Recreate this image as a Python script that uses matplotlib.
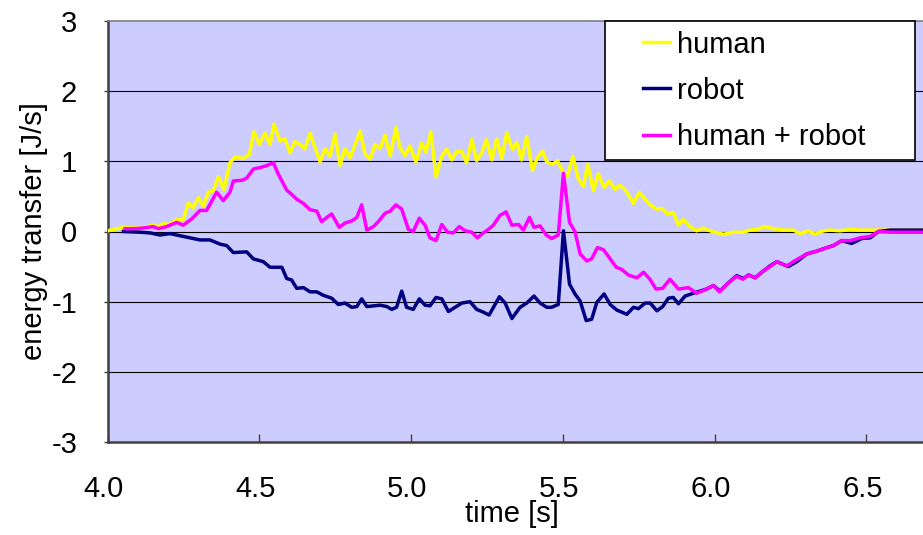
import matplotlib
matplotlib.use("Agg")
import matplotlib.pyplot as plt
from matplotlib.legend_handler import HandlerLine2D
from matplotlib.transforms import ScaledTranslation

plt.rcParams['font.family'] = ['Liberation Sans', 'DejaVu Sans']
plt.rcParams['axes.unicode_minus'] = False

human_t = [4.000, 4.052, 4.085, 4.118, 4.150, 4.167, 4.183, 4.205, 4.227, 4.249,
           4.266, 4.282, 4.299, 4.315, 4.332, 4.348, 4.365, 4.383, 4.403, 4.420,
           4.447, 4.467, 4.482, 4.500, 4.518, 4.535, 4.548, 4.568, 4.584, 4.601,
           4.617, 4.634, 4.650, 4.667, 4.683, 4.700, 4.716, 4.733, 4.749, 4.766,
           4.782, 4.799, 4.832, 4.848, 4.865, 4.881, 4.898, 4.914, 4.931, 4.950,
           4.963, 4.980, 4.996, 5.016, 5.035, 5.049, 5.065, 5.082, 5.101, 5.117,
           5.134, 5.150, 5.167, 5.183, 5.200, 5.216, 5.233, 5.248, 5.266, 5.282,
           5.299, 5.315, 5.334, 5.348, 5.364, 5.381, 5.400, 5.416, 5.433, 5.447,
           5.467, 5.482, 5.500, 5.515, 5.533, 5.551, 5.568, 5.582, 5.601, 5.617,
           5.636, 5.653, 5.672, 5.689, 5.708, 5.733, 5.752, 5.771, 5.787, 5.809,
           5.826, 5.845, 5.864, 5.881, 5.897, 5.919, 5.941, 5.963, 5.985, 6.029,
           6.062, 6.095, 6.117, 6.139, 6.166, 6.194, 6.227, 6.260, 6.282, 6.309,
           6.331, 6.359, 6.381, 6.414, 6.447, 6.480, 6.513, 6.546, 6.622, 6.687]
human_v = [0.01, 0.06, 0.05, 0.06, 0.09, 0.07, 0.11, 0.10, 0.17, 0.17,
           0.41, 0.34, 0.48, 0.36, 0.56, 0.58, 0.78, 0.60, 0.98, 1.06,
           1.04, 1.10, 1.42, 1.24, 1.40, 1.24, 1.53, 1.29, 1.32, 1.12,
           1.28, 1.24, 1.18, 1.40, 1.20, 0.99, 1.18, 1.07, 1.39, 0.94,
           1.18, 1.05, 1.43, 1.10, 1.03, 1.24, 1.18, 1.37, 1.08, 1.48,
           1.20, 1.08, 1.22, 0.99, 1.26, 1.13, 1.42, 0.78, 1.07, 1.18,
           1.02, 1.14, 1.14, 0.98, 1.31, 1.01, 1.12, 1.31, 1.02, 1.32,
           1.04, 1.41, 1.17, 1.27, 1.02, 1.35, 0.87, 1.05, 1.15, 0.99,
           0.96, 1.01, 0.85, 0.79, 1.07, 0.75, 0.64, 0.96, 0.58, 0.82,
           0.63, 0.72, 0.60, 0.66, 0.58, 0.40, 0.56, 0.46, 0.38, 0.32,
           0.33, 0.25, 0.27, 0.09, 0.17, 0.07, 0.01, 0.05, 0.01, -0.04,
           -0.01, -0.01, 0.02, 0.03, 0.07, 0.04, 0.02, 0.02, -0.03, 0.01,
           -0.04, 0.01, 0.02, 0.01, 0.03, 0.02, 0.02, 0.02, 0.02, 0.02]

robot_t = [4.052, 4.107, 4.140, 4.172, 4.205, 4.238, 4.271, 4.304, 4.337, 4.370,
           4.392, 4.414, 4.458, 4.480, 4.513, 4.535, 4.574, 4.590, 4.606, 4.623,
           4.645, 4.667, 4.689, 4.711, 4.738, 4.760, 4.782, 4.804, 4.821, 4.837,
           4.854, 4.876, 4.898, 4.920, 4.936, 4.952, 4.969, 4.985, 5.007, 5.027,
           5.046, 5.062, 5.082, 5.101, 5.123, 5.145, 5.167, 5.194, 5.216, 5.238,
           5.257, 5.291, 5.310, 5.332, 5.359, 5.381, 5.405, 5.425, 5.447, 5.463,
           5.485, 5.502, 5.522, 5.540, 5.557, 5.577, 5.595, 5.612, 5.636, 5.656,
           5.678, 5.711, 5.733, 5.749, 5.771, 5.788, 5.810, 5.829, 5.848, 5.864,
           5.881, 5.903, 5.930, 5.974, 5.996, 6.018, 6.046, 6.073, 6.095, 6.112,
           6.134, 6.156, 6.183, 6.205, 6.243, 6.271, 6.304, 6.337, 6.370, 6.392,
           6.419, 6.452, 6.485, 6.513, 6.540, 6.579, 6.687]
robot_v = [0.00, -0.01, -0.02, -0.05, -0.03, -0.06, -0.09, -0.12, -0.12, -0.18,
           -0.20, -0.30, -0.29, -0.39, -0.43, -0.51, -0.51, -0.67, -0.69, -0.81,
           -0.80, -0.86, -0.86, -0.91, -0.95, -1.04, -1.02, -1.08, -1.07, -0.96,
           -1.07, -1.06, -1.05, -1.07, -1.11, -1.08, -0.85, -1.08, -1.11, -0.96,
           -1.05, -1.06, -0.94, -0.96, -1.14, -1.08, -1.02, -1.00, -1.11, -1.15,
           -1.19, -0.93, -1.02, -1.24, -1.08, -1.02, -0.92, -1.02, -1.08, -1.08,
           -1.04, 0.01, -0.75, -0.89, -0.99, -1.27, -1.25, -1.01, -0.89, -1.04,
           -1.12, -1.18, -1.08, -1.10, -1.02, -1.02, -1.13, -1.07, -0.95, -0.94,
           -1.03, -0.92, -0.88, -0.82, -0.77, -0.85, -0.73, -0.63, -0.67, -0.62,
           -0.66, -0.58, -0.49, -0.43, -0.50, -0.43, -0.32, -0.28, -0.23, -0.20,
           -0.13, -0.17, -0.10, -0.09, 0.00, 0.02, 0.02]

sum_t = [4.057, 4.084, 4.117, 4.150, 4.167, 4.194, 4.227, 4.249, 4.277, 4.304,
         4.326, 4.359, 4.381, 4.403, 4.414, 4.442, 4.458, 4.480, 4.502, 4.524,
         4.546, 4.562, 4.590, 4.606, 4.623, 4.645, 4.667, 4.689, 4.705, 4.722,
         4.738, 4.763, 4.782, 4.804, 4.821, 4.837, 4.854, 4.876, 4.892, 4.914,
         4.931, 4.950, 4.969, 4.991, 5.007, 5.027, 5.046, 5.062, 5.082, 5.101,
         5.120, 5.139, 5.159, 5.178, 5.200, 5.218, 5.238, 5.255, 5.271, 5.293,
         5.313, 5.332, 5.354, 5.370, 5.390, 5.405, 5.425, 5.445, 5.463, 5.485,
         5.502, 5.522, 5.540, 5.557, 5.579, 5.595, 5.614, 5.634, 5.656, 5.676,
         5.694, 5.716, 5.744, 5.766, 5.787, 5.807, 5.829, 5.853, 5.881, 5.914,
         5.941, 5.969, 5.996, 6.016, 6.046, 6.073, 6.093, 6.112, 6.134, 6.161,
         6.183, 6.205, 6.238, 6.271, 6.304, 6.337, 6.370, 6.392, 6.419, 6.447,
         6.480, 6.513, 6.540, 6.579, 6.622, 6.687]
sum_v = [0.04, 0.04, 0.05, 0.07, 0.04, 0.07, 0.13, 0.09, 0.18, 0.30,
         0.30, 0.56, 0.44, 0.56, 0.72, 0.73, 0.76, 0.89, 0.91, 0.94,
         0.98, 0.82, 0.59, 0.53, 0.46, 0.40, 0.31, 0.29, 0.14, 0.20,
         0.25, 0.06, 0.12, 0.15, 0.20, 0.38, 0.02, 0.07, 0.14, 0.26,
         0.29, 0.38, 0.32, 0.03, 0.00, 0.19, 0.09, -0.09, -0.13, 0.10,
         -0.01, -0.02, 0.07, 0.01, -0.01, -0.09, -0.02, 0.03, 0.09, 0.23,
         0.28, 0.09, 0.10, 0.02, 0.20, 0.06, 0.08, -0.05, -0.10, -0.05,
         0.83, 0.13, 0.00, -0.32, -0.42, -0.39, -0.23, -0.26, -0.39, -0.51,
         -0.54, -0.62, -0.66, -0.58, -0.68, -0.82, -0.81, -0.68, -0.82, -0.80,
         -0.88, -0.83, -0.77, -0.86, -0.73, -0.64, -0.68, -0.62, -0.66, -0.56,
         -0.50, -0.43, -0.49, -0.40, -0.32, -0.28, -0.23, -0.20, -0.13, -0.13,
         -0.09, -0.07, 0.00, -0.01, -0.01, -0.01]

series_labels = ["human", "robot", "human + robot"]
series_colors = ["#FFFF00", "#000080", "#FF00FF"]
x_ticks = [4.0, 4.5, 5.0, 5.5, 6.0, 6.5]
x_tick_labels = ["4.0", "4.5", "5.0", "5.5", "6.0", "6.5"]
y_ticks = [-3, -2, -1, 0, 1, 2, 3]

W, H = 923, 535
fig = plt.figure(figsize=(W / 100, H / 100), dpi=100)
ax = fig.add_axes([107.7 / W, (H - 442) / H, 1 - 107.7 / W, (442 - 21) / H])
ax.set_facecolor("#CCCCFF")

for yv in y_ticks[1:-1]:
    ax.axhline(yv, color="black", lw=0.8, zorder=1)

lw = 2.5
ax.plot(human_t, human_v, color=series_colors[0], lw=lw, label=series_labels[0], zorder=3)
ax.plot(robot_t, robot_v, color=series_colors[1], lw=lw, label=series_labels[1], zorder=4)
ax.plot(sum_t, sum_v, color=series_colors[2], lw=lw, label=series_labels[2], zorder=5)

ax.set_xlim(4.0, 6.687)
ax.set_ylim(-3, 3)
ax.set_xticks(x_ticks)
ax.set_xticklabels(x_tick_labels)
ax.set_yticks(y_ticks)

fs = 21
ax.tick_params(axis="x", direction="in", length=6, width=1.0, color="#404040",
               labelsize=fs, pad=24)
ax.tick_params(axis="y", direction="out", length=3, width=1.0, color="#404040",
               labelsize=fs, pad=19)
off = ScaledTranslation(-4 / 100, 0, fig.dpi_scale_trans)
for lab in ax.get_xticklabels():
    lab.set_transform(lab.get_transform() + off)

for side in ["left", "bottom"]:
    ax.spines[side].set_color("#404040")
    ax.spines[side].set_linewidth(1.8)
ax.spines["top"].set_color("#808080")
ax.spines["top"].set_linewidth(1.2)
ax.spines["right"].set_visible(False)

ax.set_xlabel("time [s]", fontsize=fs)
ax.xaxis.set_label_coords((512 - 107.7) / 815.3, (442 - 500) / 421)
ax.set_ylabel("energy transfer [J/s]", fontsize=fs, labelpad=2)

fpx = fs * 100 / 72
hm = {l: HandlerLine2D(xpad=28.0 / fpx) for l in ax.get_lines()}
leg = ax.legend(loc="upper left",
                bbox_to_anchor=(605 / W, (H - 159) / H, 310 / W, 138 / H),
                bbox_transform=fig.transFigure, mode="expand",
                borderaxespad=0, borderpad=0.33, fontsize=fs,
                handlelength=(28.0 + 27) / fpx, handletextpad=7 / fpx,
                labelspacing=0.62, fancybox=False, framealpha=1,
                edgecolor="black", handler_map=hm)
leg.get_frame().set_linewidth(1.2)
leg.set_zorder(10)

fig.savefig("out.png", dpi=100)
